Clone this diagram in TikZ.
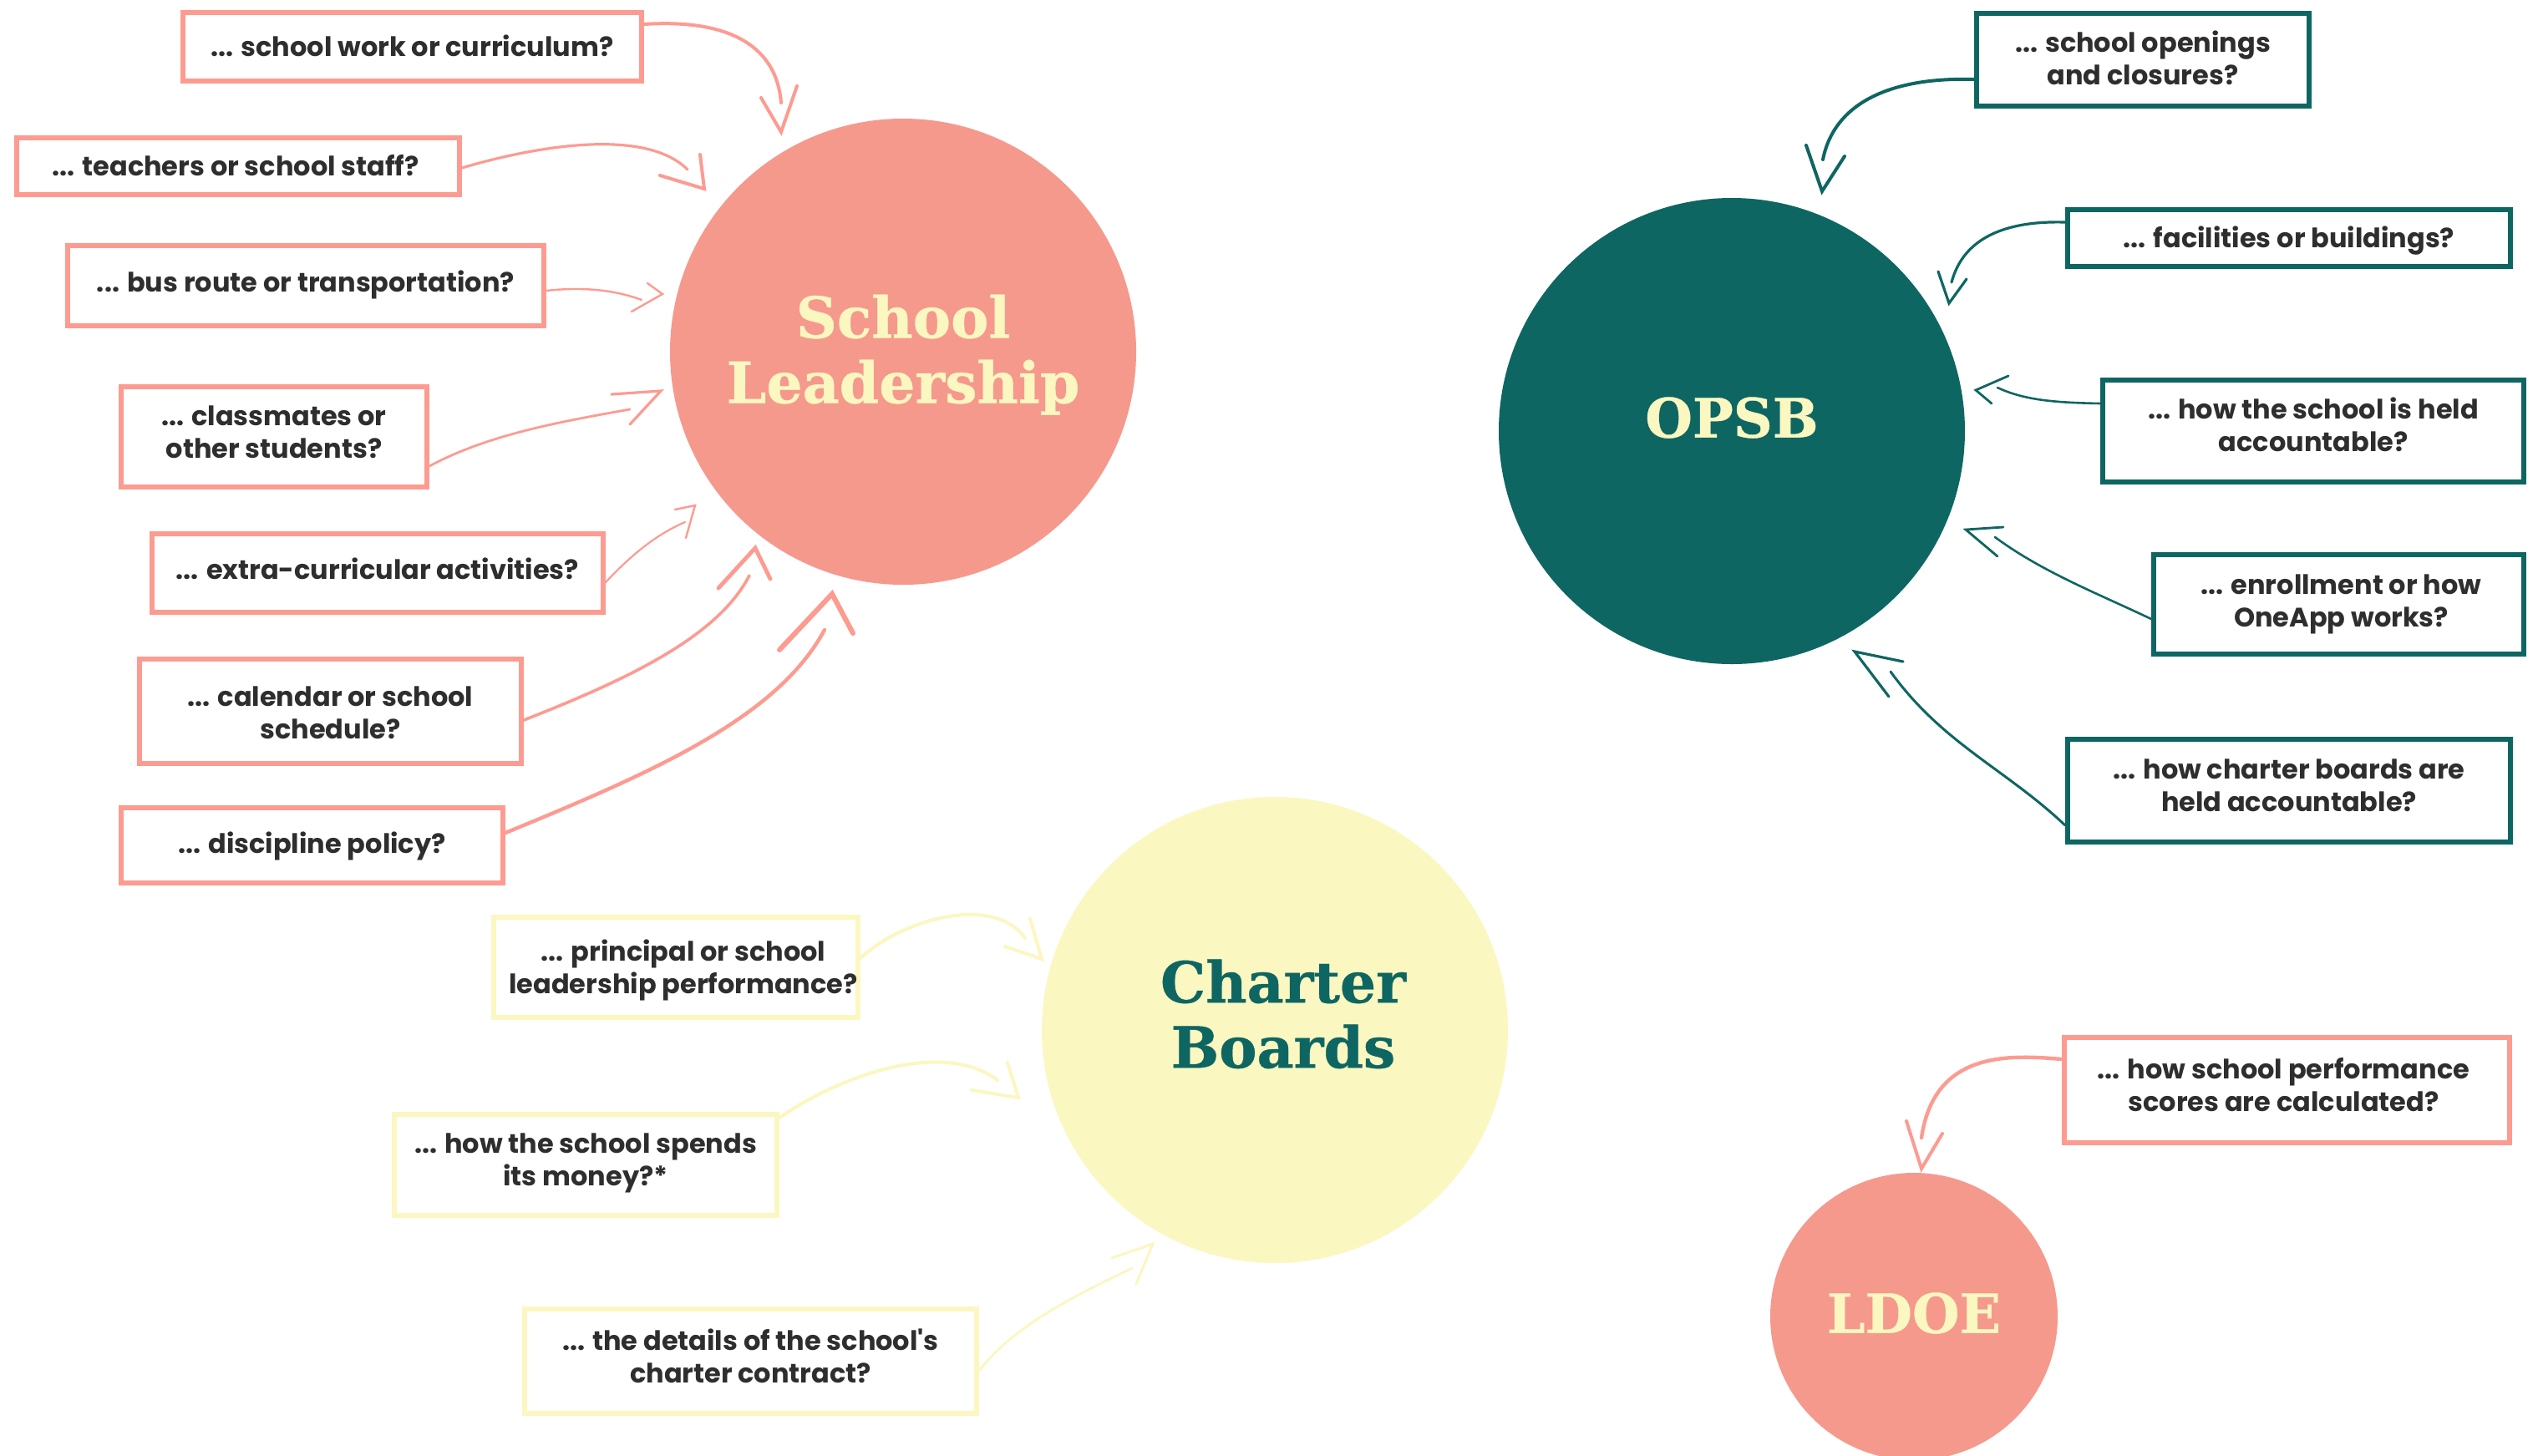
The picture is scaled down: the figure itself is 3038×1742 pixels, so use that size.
\documentclass[tikz,border=0pt]{standalone}
\usepackage{fontspec}
\newfontfamily\qfont{Poppins Bold}
\newfontfamily\hfont{DejaVu Serif Bold}[FakeBold=0.6]
\definecolor{salmon}{HTML}{F6998D}
\definecolor{pinkline}{HTML}{FD9B91}
\definecolor{teal}{HTML}{0E6662}
\definecolor{cream}{HTML}{FBF7C0}
\definecolor{ink}{HTML}{2E2E2E}
\tikzset{
  qbox/.style={draw,line width=3pt,fill=white,inner sep=0pt,text=ink,align=center,font=\qfont\fontsize{16}{19.5}\selectfont},
  hub/.style={circle,inner sep=0pt,align=center,font=\hfont\fontsize{32.5}{39}\selectfont},
  bighub/.style={hub,font=\hfont\fontsize{34}{39}\selectfont},
  conn/.style={line cap=round,line join=round},
  barb/.style={line cap=round,line join=miter,miter limit=10},
}
% [text x-shift], name, colour, x0, y0, x1, y1, raise (pt), text
\newcommand\Qb[9][0pt]{\node[qbox,draw=#3,minimum width={(#6-#4-6)*0.5pt},minimum height={(#7-#5-6)*0.5pt}] (#2) at ({(#4+#6)/2},{(#5+#7)/2}) {\raisebox{#8}[\height][\depth]{\kern#1\begin{tabular}{@{}c@{}}#9\end{tabular}\kern-#1}};}
% name, colour, width(pt), end, barb, tip, barb
\newcommand\Hd[7]{\coordinate (#1) at (#4);\coordinate (#1t) at (#6);\draw[barb,draw=#2,line width=#3] (#5) -- (#1t) -- (#7);}
\begin{document}
\begin{tikzpicture}[x=0.5pt,y=-0.5pt]
\useasboundingbox (0,0) rectangle (3038,1742);
\clip (0,0) rectangle (3038,1742);
\fill[white] (0,0) rectangle (3038,1742);
% hubs
\node[bighub,fill=salmon,text=cream,minimum size=279pt] (sl) at (1081,421) {\raisebox{-3.4pt}[\height][\depth]{\begin{tabular}{@{}c@{}}School\\Leadership\end{tabular}}};
\node[hub,fill=teal,text=cream,minimum size=279pt] (opsb) at (2073,516) {\raisebox{8pt}[\height][\depth]{OPSB}};
\node[bighub,fill=cream,text=teal,minimum size=279pt] (cb) at (1526,1233) {\raisebox{4.7pt}[\height][\depth]{\hspace*{10pt}\begin{tabular}{@{}c@{}}Charter\\Boards\end{tabular}}};
\node[hub,fill=salmon,text=cream,minimum size=172pt] (ldoe) at (2291,1576) {\raisebox{2pt}[\height][\depth]{LDOE}};
% question boxes
\Qb{b1}{pinkline}{216}{12}{771}{100}{-2pt}{... school work or curriculum?}
\Qb[-1.5pt]{b2}{pinkline}{17}{162}{553}{236}{-2pt}{... teachers or school staff?}
\Qb{b3}{pinkline}{78}{291}{654}{393}{0pt}{... bus route or transportation?}
\Qb{b4}{pinkline}{142}{460}{514}{586}{1pt}{... classmates or\\other students?}
\Qb{b5}{pinkline}{179}{636}{725}{736}{0pt}{... extra-curricular activities?}
\Qb{b6}{pinkline}{164}{786}{627}{917}{-3pt}{... calendar or school\\schedule?}
\Qb{b7}{pinkline}{142}{964}{605}{1060}{-1pt}{... discipline policy?}
\Qb{o1}{teal}{2363}{13}{2767}{130}{-1.5pt}{... school openings\\and closures?}
\Qb{o2}{teal}{2472}{248}{3008}{322}{-2pt}{... facilities or buildings?}
\Qb{o3}{teal}{2514}{452}{3024}{580}{1.5pt}{... how the school is held\\accountable?}
\Qb[1.5pt]{o4}{teal}{2575}{661}{3024}{786}{0pt}{... enrollment or how\\OneApp works?}
\Qb{o5}{teal}{2472}{882}{3008}{1011}{1pt}{... how charter boards are\\held accountable?}
\Qb[4.5pt]{c1}{cream}{588}{1095}{1030}{1221}{-2pt}{... principal or school\\leadership performance?}
\Qb{c2}{cream}{469}{1331}{933}{1458}{1pt}{... how the school spends\\its money?*}
\Qb{c3}{cream}{625}{1564}{1172}{1695}{0.5pt}{... the details of the school's\\charter contract?}
\Qb[-2pt]{l1}{pinkline}{2468}{1239}{3007}{1371}{1pt}{... how school performance\\scores are calculated?}
% arrowheads
\Hd{a1}{pinkline}{2pt}{935,123}{911,117}{935,158}{954,103}
\Hd{a2}{pinkline}{2pt}{823,203}{790,210}{843,226}{838,185}
\Hd{a3}{pinkline}{1.2pt}{768,359}{775,339}{793,352}{756,373}
\Hd{a4}{pinkline}{1.6pt}{754,490}{732,472}{791,468}{754,508}
\Hd{a5}{pinkline}{1.2pt}{820,625}{808,610}{832,605}{821,644}
\Hd{a6}{pinkline}{2.4pt}{897,689}{860,704}{904,656}{922,693}
\Hd{a7}{pinkline}{3pt}{987,754}{933,778}{996,711}{1021,758}
\Hd{p1}{teal}{2pt}{2182,191}{2162,174}{2181,229}{2208,187}
\Hd{p2}{teal}{1.6pt}{2336,338}{2320,325}{2333,363}{2354,334}
\Hd{p3}{teal}{1.4pt}{2391,464}{2404,450}{2365,467}{2384,483}
\Hd{p4}{teal}{1.4pt}{2388,643}{2398,631}{2353,634}{2391,666}
\Hd{p5}{teal}{1.6pt}{2263,804}{2278,792}{2220,780}{2261,834}
\Hd{q1}{cream}{2pt}{1227,1123}{1203,1133}{1247,1148}{1233,1100}
\Hd{q2}{cream}{2pt}{1194,1293}{1163,1305}{1219,1314}{1206,1272}
\Hd{q3}{cream}{1.5pt}{1355,1518}{1331,1506}{1380,1489}{1360,1537}
\Hd{m1}{pinkline}{2pt}{2300,1362}{2282,1342}{2300,1399}{2325,1357}
% connectors
\draw[conn,pinkline,line width=2pt] (b1.east |- 0,29) .. controls (880,22) and (930,60) .. (a1);
\draw[conn,pinkline,line width=1.6pt] (b2.east |- 0,201) .. controls (630,178) and (770,150) .. (a2);
\draw[conn,pinkline,line width=1.2pt] (b3.east |- 0,348) .. controls (690,344) and (730,345) .. (a3);
\draw[conn,pinkline,line width=1.4pt] (b4.east |- 0,558) .. controls (585,520) and (670,505) .. (a4);
\draw[conn,pinkline,line width=1.1pt] (b5.east |- 0,697) .. controls (755,665) and (785,640) .. (a5);
\draw[conn,pinkline,line width=1.8pt] (b6.east |- 0,862) .. controls (760,810) and (860,760) .. (a6);
\draw[conn,pinkline,line width=2.2pt] (b7.east |- 0,997) .. controls (780,925) and (930,860) .. (a7);
\draw[conn,teal,line width=2pt] (o1.west |- 0,95) .. controls (2260,92) and (2195,125) .. (p1);
\draw[conn,teal,line width=1.6pt] (o2.west |- 0,266) .. controls (2400,264) and (2350,285) .. (p2);
\draw[conn,teal,line width=1.3pt] (o3.west |- 0,483) .. controls (2465,482) and (2425,480) .. (p3);
\draw[conn,teal,line width=1.3pt] (o4.west |- 0,741) .. controls (2510,710) and (2445,685) .. (p4);
\draw[conn,teal,line width=1.5pt] (o5.west |- 0,988) .. controls (2400,920) and (2325,890) .. (p5);
\draw[conn,cream,line width=2pt] (c1.east |- 0,1147) .. controls (1080,1100) and (1190,1070) .. (q1);
\draw[conn,cream,line width=2pt] (c2.east |- 0,1338) .. controls (1010,1285) and (1130,1245) .. (q2);
\draw[conn,cream,line width=1.4pt] (c3.east |- 0,1641) .. controls (1215,1585) and (1290,1550) .. (q3);
\draw[conn,pinkline,line width=2.2pt] (l1.west |- 0,1268) .. controls (2400,1262) and (2315,1260) .. (m1);
\end{tikzpicture}
\end{document}
